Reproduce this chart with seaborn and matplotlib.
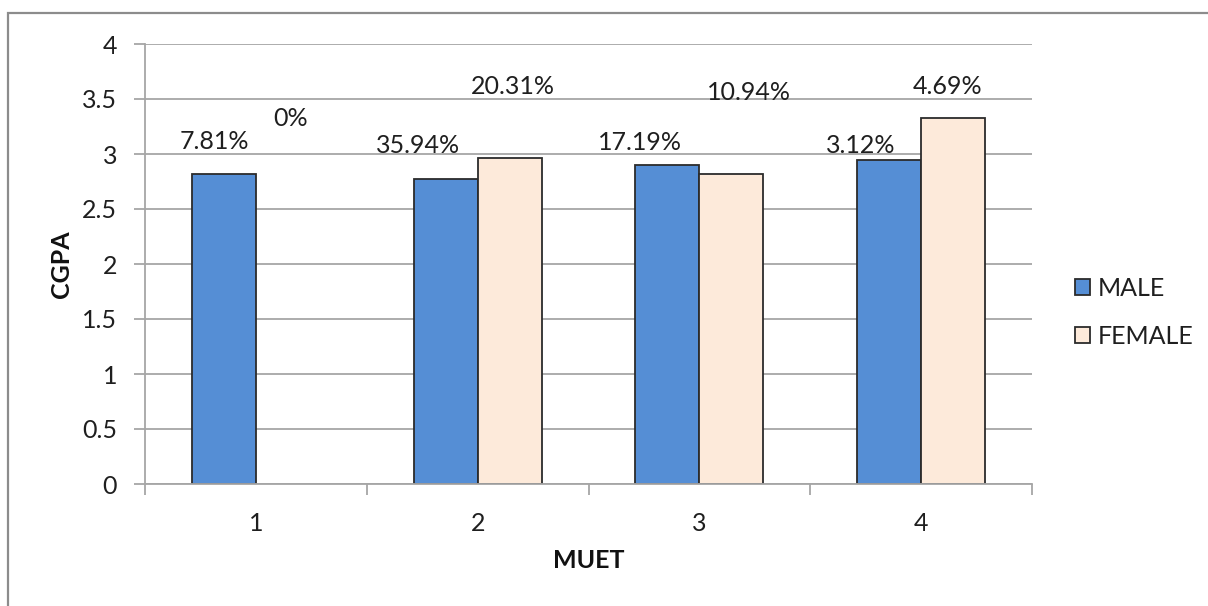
import matplotlib
matplotlib.use("Agg")
import matplotlib.pyplot as plt
from matplotlib.patches import Rectangle
import numpy as np
import pandas as pd
import seaborn as sns

# CGPA by MUET band and gender, with share of students per group
muet_bands = ["1", "2", "3", "4"]
male_cgpa = [2.82, 2.77, 2.90, 2.95]
female_cgpa = [np.nan, 2.96, 2.82, 3.33]
male_share = ["7.81%", "35.94%", "17.19%", "3.12%"]
female_share = ["0%", "20.31%", "10.94%", "4.69%"]
series_names = ["MALE", "FEMALE"]

# label placement (horizontal nudge in category units, baseline in CGPA units)
male_label_dx = [-0.043, -0.126, -0.122, -0.126]
female_label_dx = [0.014, 0.014, 0.079, -0.025]
male_label_y = [3.043, 3.006, 3.036, 3.012]
female_label_y = [3.255, 3.545, 3.49, 3.545]

df = pd.DataFrame({
    "MUET": muet_bands * 2,
    "CGPA": male_cgpa + female_cgpa,
    "Gender": [series_names[0]] * 4 + [series_names[1]] * 4,
})

sns.set_style("white")
plt.rcParams["font.family"] = ["Lato", "DejaVu Sans"]

W, H = 1208, 606
FS = 18
fig = plt.figure(figsize=(W / 100, H / 100), dpi=100)
ax = fig.add_axes([145 / W, 1 - 484 / H, (1032 - 145) / W, (484 - 44) / H])

bar_width = 0.577
sns.barplot(
    data=df, x="MUET", y="CGPA", hue="Gender", order=muet_bands,
    hue_order=series_names, palette=["#558ED5", "#FDEADA"],
    width=bar_width, edgecolor="#2b2b2b", linewidth=1.3, ax=ax,
    errorbar=None, saturation=1,
)

text_color = "#1f1f1f"
grid_color = "#A6A6A6"

ax.set_xlim(-0.5, 3.5)
ax.set_ylim(0, 4)
ax.set_yticks(np.arange(0, 4.01, 0.5))
ax.set_yticklabels(["0", "0.5", "1", "1.5", "2", "2.5", "3", "3.5", "4"])
ax.yaxis.grid(True, color=grid_color, linewidth=1.3)
ax.set_axisbelow(True)

for side in ["top", "right"]:
    ax.spines[side].set_visible(False)
for side in ["left", "bottom"]:
    ax.spines[side].set_color(grid_color)
    ax.spines[side].set_linewidth(1.3)

ax.tick_params(axis="y", which="major", direction="out", length=8, width=1.3,
               color=grid_color, labelsize=FS, labelcolor=text_color, pad=12,
               left=True)
ax.tick_params(axis="x", which="major", length=0, labelsize=FS,
               labelcolor=text_color, pad=20)
ax.set_xticks(np.arange(-0.5, 3.6, 1.0), minor=True)
ax.tick_params(axis="x", which="minor", direction="out", length=8, width=1.3,
               color=grid_color, bottom=True)

ax.set_xlabel("MUET", fontsize=FS, fontweight="bold", color="#111111", labelpad=10)
ax.set_ylabel("CGPA", fontsize=FS, fontweight="bold", color="#111111", labelpad=7)

offset = bar_width / 4
for i in range(len(muet_bands)):
    ax.text(i - offset + male_label_dx[i], male_label_y[i], male_share[i],
            ha="center", va="baseline", fontsize=FS, color=text_color)
    ax.text(i + offset + female_label_dx[i], female_label_y[i], female_share[i],
            ha="center", va="baseline", fontsize=FS, color=text_color)

handles, labels = ax.get_legend_handles_labels()
ax.legend(
    handles, labels, loc="center left",
    bbox_to_anchor=(1075 / W, 1 - 312 / H), bbox_transform=fig.transFigure,
    frameon=False, fontsize=FS, handlelength=0.6, handleheight=0.6,
    handletextpad=0.32, labelspacing=1.0, borderpad=0, borderaxespad=0,
    labelcolor=text_color,
)

# outer chart border
fig.patches.append(Rectangle((8 / W, -0.05), 1.2, 1 - 13 / H + 0.05,
                             transform=fig.transFigure, fill=False,
                             edgecolor="#8C8C8C", linewidth=1.6))

fig.savefig("out.png", dpi=100)
